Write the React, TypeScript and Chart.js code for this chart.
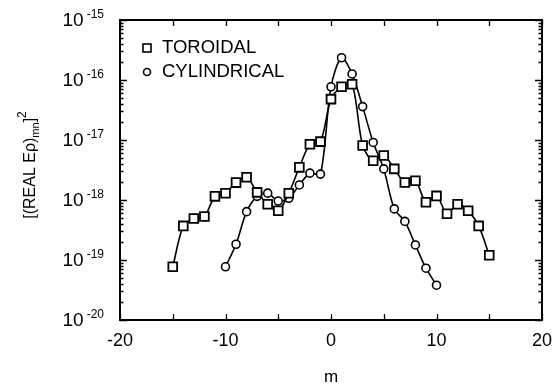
import React, { useEffect, useRef } from "react";
import { Chart, registerables } from "chart.js";
Chart.register(...registerables);

const toroidalM = [-15, -14, -13, -12, -11, -10, -9, -8, -7, -6, -5, -4, -3, -2, -1, 0, 1, 2, 3, 4, 5, 6, 7, 8, 9, 10, 11, 12, 13, 14, 15];
const toroidalVals = [7.7e-20, 3.7e-19, 4.9e-19, 5.3e-19, 1.15e-18, 1.3e-18, 1.95e-18, 2.4e-18, 1.34e-18, 8.5e-19, 6.6e-19, 1.3e-18, 3.5e-18, 8.5e-18, 9.4e-18, 4.8e-17, 7.7e-17, 8.5e-17, 8.1e-18, 4.5e-18, 5.5e-18, 3.3e-18, 1.96e-18, 2.1e-18, 9.2e-19, 1.17e-18, 5.9e-19, 8.5e-19, 6.6e-19, 3.7e-19, 1.2e-19];
const cylindricalM = [-10, -9, -8, -7, -6, -5, -4, -3, -2, -1, 0, 1, 2, 3, 4, 5, 6, 7, 8, 9, 10];
const cylindricalVals = [7.7e-20, 1.83e-19, 6.4e-19, 1.15e-18, 1.3e-18, 9.6e-19, 1.07e-18, 1.78e-18, 2.8e-18, 2.7e-18, 7.7e-17, 2.35e-16, 1.26e-16, 3.6e-17, 9.1e-18, 3.3e-18, 7.1e-19, 4.4e-19, 1.78e-19, 7.3e-20, 3.8e-20];
const xTickValues = [-20, -15, -10, -5, 0, 5, 10, 15, 20];
const xTickLabels = ["-20", "-10", "0", "10", "20"];
const yExponents = [-15, -16, -17, -18, -19, -20];
const seriesNames = ["TOROIDAL", "CYLINDRICAL"];

const FONT = '"Liberation Sans", Arial, sans-serif';

const decorPlugin = {
  id: "decor",
  afterDraw(chart: any) {
    const ctx = chart.ctx;
    const a = chart.chartArea;
    const xs = chart.scales.x;
    const ys = chart.scales.y;
    ctx.save();
    ctx.strokeStyle = "#000";
    ctx.fillStyle = "#000";
    // frame
    ctx.lineWidth = 2;
    ctx.strokeRect(a.left, a.top, a.right - a.left, a.bottom - a.top);
    ctx.lineWidth = 1.3;
    // x ticks (inside, top and bottom)
    for (const v of xTickValues) {
      const px = Math.round(xs.getPixelForValue(v)) + 0.5;
      ctx.beginPath();
      ctx.moveTo(px, a.bottom);
      ctx.lineTo(px, a.bottom - 6);
      ctx.moveTo(px, a.top);
      ctx.lineTo(px, a.top + 6);
      ctx.stroke();
    }
    // y ticks
    for (const e of yExponents) {
      const py = Math.round(ys.getPixelForValue(Math.pow(10, e))) + 0.5;
      ctx.beginPath();
      ctx.moveTo(a.left, py);
      ctx.lineTo(a.left + 7, py);
      ctx.moveTo(a.right, py);
      ctx.lineTo(a.right - 7, py);
      ctx.stroke();
      if (e > -20) {
        for (let k = 2; k <= 9; k++) {
          const my = Math.round(ys.getPixelForValue(k * Math.pow(10, e - 1))) + 0.5;
          ctx.beginPath();
          ctx.moveTo(a.left, my);
          ctx.lineTo(a.left + 3.5, my);
          ctx.moveTo(a.right, my);
          ctx.lineTo(a.right - 3.5, my);
          ctx.stroke();
        }
      }
    }
    // x tick labels
    ctx.font = `18px ${FONT}`;
    ctx.textAlign = "center";
    ctx.textBaseline = "middle";
    for (const lbl of xTickLabels) {
      const px = xs.getPixelForValue(Number(lbl));
      ctx.fillText(lbl, px, a.bottom + 21);
    }
    // y tick labels 10^e
    for (const e of yExponents) {
      const py = ys.getPixelForValue(Math.pow(10, e));
      const expStr = String(e);
      ctx.font = `12px ${FONT}`;
      const ew = ctx.measureText(expStr).width;
      const right = 104;
      ctx.textAlign = "left";
      ctx.textBaseline = "alphabetic";
      ctx.fillText(expStr, right - ew, py - 2);
      ctx.font = `19px ${FONT}`;
      ctx.textAlign = "right";
      ctx.textBaseline = "middle";
      ctx.fillText("10", right - ew - 3, py + 1);
    }
    // x title
    ctx.font = `17px ${FONT}`;
    ctx.textAlign = "center";
    ctx.textBaseline = "middle";
    ctx.fillText("m", (a.left + a.right) / 2, 377);
    // y title
    ctx.save();
    ctx.translate(35, 165);
    ctx.rotate(-Math.PI / 2);
    ctx.textAlign = "left";
    ctx.textBaseline = "alphabetic";
    const parts: [string, number, number][] = [
      ["[(REAL E\u03c1)", 16, 0],
      ["mn", 11, 4],
      ["]", 16, 0],
      ["2", 12, -9],
    ];
    let total = 0;
    for (const [t, s] of parts) {
      ctx.font = `${s}px ${FONT}`;
      total += ctx.measureText(t).width;
    }
    let cx = -total / 2;
    for (const [t, s, dy] of parts) {
      ctx.font = `${s}px ${FONT}`;
      ctx.fillText(t, cx, dy);
      cx += ctx.measureText(t).width;
    }
    ctx.restore();
    // legend
    ctx.font = `18.5px ${FONT}`;
    ctx.textAlign = "left";
    ctx.textBaseline = "middle";
    ctx.lineWidth = 1.6;
    ctx.strokeRect(143, 44, 8, 8);
    ctx.beginPath();
    ctx.arc(147, 72, 3.5, 0, Math.PI * 2);
    ctx.stroke();
    ctx.fillText(seriesNames[0], 162, 48);
    ctx.fillText(seriesNames[1], 162, 72);
    ctx.restore();
  },
};

export default function App() {
  const ref = useRef<HTMLCanvasElement>(null);
  useEffect(() => {
    document.body.style.margin = "0";
    const chart = new Chart(ref.current as HTMLCanvasElement, {
      type: "line",
      data: {
        datasets: [
          {
            label: seriesNames[0],
            data: toroidalM.map((m, i) => ({ x: m, y: toroidalVals[i] })),
            borderColor: "#000",
            borderWidth: 1.6,
            backgroundColor: "#fff",
            pointStyle: "rect",
            pointRadius: 6.2,
            pointBorderWidth: 1.8,
            pointBackgroundColor: "#fff",
            pointBorderColor: "#000",
            tension: 0.3,
          },
          {
            label: seriesNames[1],
            data: cylindricalM.map((m, i) => ({ x: m, y: cylindricalVals[i] })),
            borderColor: "#000",
            borderWidth: 1.6,
            backgroundColor: "#fff",
            pointStyle: "circle",
            pointRadius: 4,
            pointBorderWidth: 1.6,
            pointBackgroundColor: "#fff",
            pointBorderColor: "#000",
            tension: 0.3,
          },
        ],
      },
      options: {
        animation: false,
        responsive: false,
        maintainAspectRatio: false,
        layout: { padding: { left: 120, right: 11, top: 20, bottom: 70 } },
        plugins: { legend: { display: false }, tooltip: { enabled: false } },
        scales: {
          x: { type: "linear", min: -20, max: 20, display: false },
          y: { type: "logarithmic", min: 1e-20, max: 1e-15, display: false },
        },
      },
      plugins: [decorPlugin],
    });
    return () => chart.destroy();
  }, []);
  return (
    <div style={{ width: 553, height: 390, background: "#fff" }}>
      <canvas ref={ref} width={553} height={390} style={{ display: "block" }} />
    </div>
  );
}
